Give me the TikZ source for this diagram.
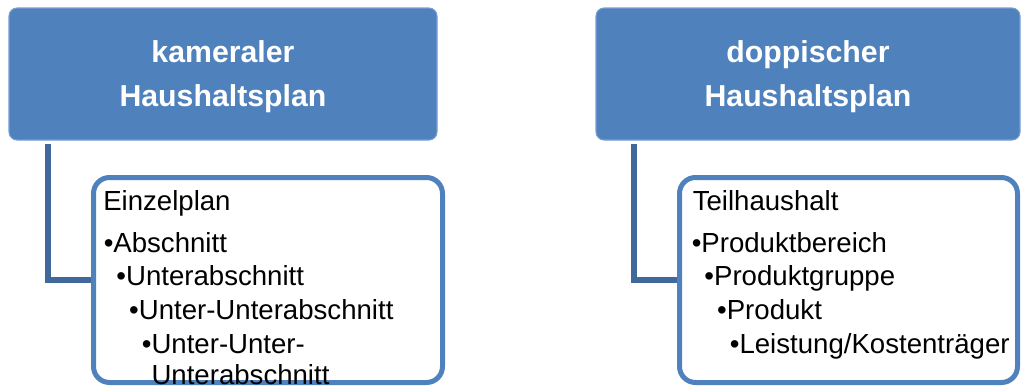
\documentclass[tikz,border=0pt]{standalone}
\usepackage{fontspec}
\setmainfont{Liberation Sans}
\usetikzlibrary{calc}
\definecolor{planblue}{RGB}{79,129,189}
\definecolor{planedge}{RGB}{120,158,210}
\definecolor{linkblue}{RGB}{65,104,155}

\begin{document}
\begin{tikzpicture}[x=0.75pt,y=-0.75pt,
    titlebox/.style={rectangle, rounded corners=6pt, fill=planblue, draw=planedge, line width=0.8pt,
        text=white, align=center, text depth=0pt, minimum height=99pt,
        font=\bfseries\fontsize{22.7}{33}\selectfont},
    listbox/.style={rectangle, rounded corners=12pt, fill=white, draw=planblue, line width=3.75pt,
        minimum height=153.75pt},
    listtext/.style={anchor=base west, inner sep=0pt, font=\fontsize{20.7}{25}\selectfont},
    link/.style={draw=linkblue, line width=4.5pt}]
\useasboundingbox (0,0) rectangle (1022,387);

% Kopfkaesten
\node[titlebox, minimum width=321pt] (kam) at (223,74) {kameraler\\Haushaltsplan};
\node[titlebox, minimum width=318pt] (dop) at (808,74) {doppischer\\Haushaltsplan};

% Untergliederung
\node[listbox, minimum width=261.75pt] (einzel) at (268,280) {};
\node[listbox, minimum width=253.5pt] (teil) at (848.5,280) {};

% Verbindungen
\draw[link] ($(kam.south west)+(40,3)$) |- (einzel.west);
\draw[link] ($(dop.south west)+(39,3)$) |- (teil.west);

% Texte links
\node[listtext] (einzelhead) at (103,210) {Einzelplan};
\foreach \lev/\txt [count=\i] in {0/Abschnitt, 1/Unterabschnitt, 2/Unter-Unterabschnitt, 3/Unter-Unter-}
    \node[listtext] (einzel\i) at (103.5+12.7*\lev,252+33.7*\i-33.7) {\textbullet\txt};
\node[listtext] (einzel5) at (141.6,384) {\phantom{\textbullet}Unterabschnitt};

% Texte rechts
\node[listtext] (teilhead) at (692.5,210) {Teilhaushalt};
\foreach \lev/\txt [count=\i] in {0/Produktbereich, 1/Produktgruppe, 2/Produkt, 3/{Leistung/Kostenträger}}
    \node[listtext] (teil\i) at (691.5+12.7*\lev,252+33.7*\i-33.7) {\textbullet\txt};
\end{tikzpicture}
\end{document}
